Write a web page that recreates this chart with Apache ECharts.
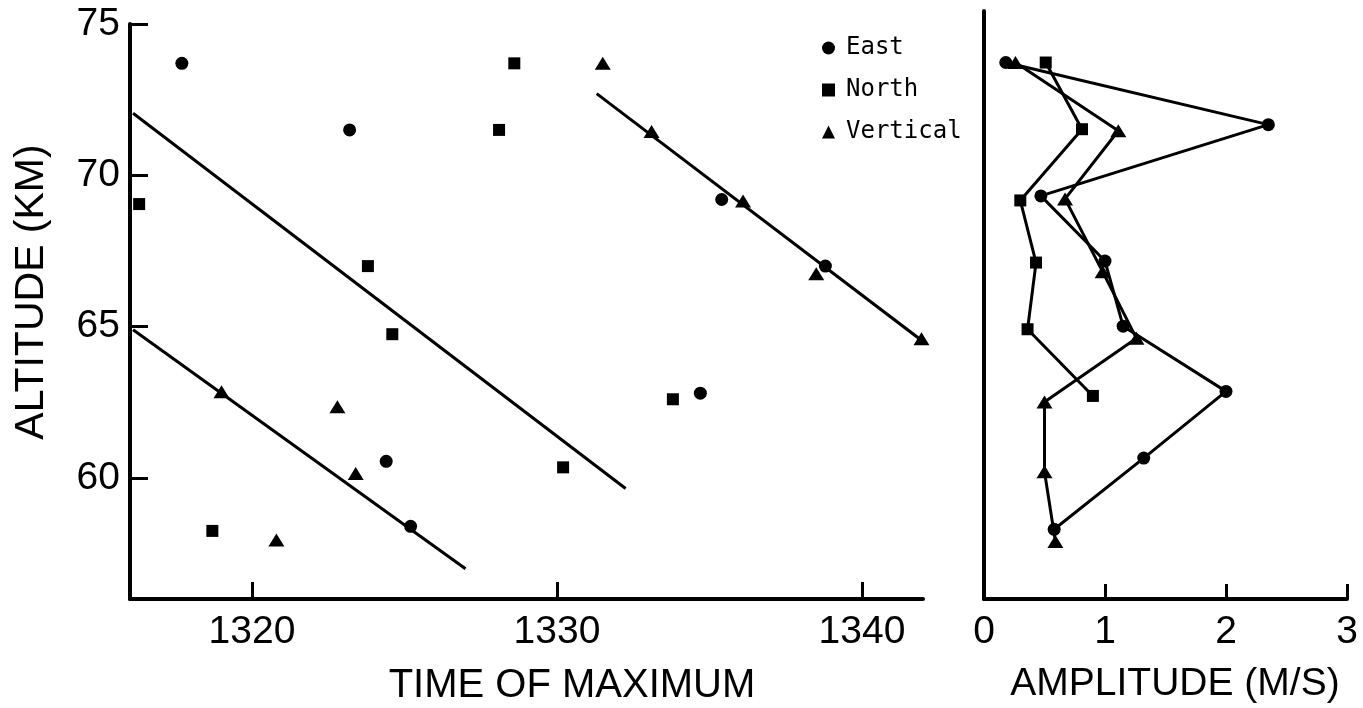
<!DOCTYPE html>
<html>
<head>
<meta charset="utf-8">
<script src="https://cdn.jsdelivr.net/npm/echarts@6/dist/echarts.min.js"></script>
<style>
  html, body { margin: 0; padding: 0; background: #fff; }
  #chart { width: 1363px; height: 708px; }
</style>
</head>
<body>
<div id="chart"></div>
<script>
// Tick values
const timeTicks = [1320, 1330, 1340];
const altTicks = [60, 65, 70, 75];
const ampTicks = [0, 1, 2, 3];

// Time of maximum (minutes) vs altitude (km)
const eastTime  = [1317.7, 1323.2, 1335.4, 1338.8, 1342.5, 1334.7, 1324.4, 1325.2];
const eastAlt   = [73.7, 71.5, 69.2, 67.0, 64.9, 62.8, 60.55, 58.4];
const northTime = [1328.6, 1328.1, 1316.3, 1323.8, 1324.6, 1333.8, 1330.2, 1318.7];
const northAlt  = [73.7, 71.5, 69.05, 67.0, 64.75, 62.6, 60.35, 58.25];
const vertTime  = [1331.5, 1333.1, 1336.1, 1338.5, 1341.95, 1319.0, 1322.8, 1323.4, 1320.8];
const vertAlt   = [73.7, 71.45, 69.15, 66.75, 64.6, 62.85, 62.35, 60.15, 57.95];

// Fitted phase lines (end points)
const fitUpperTime = [1331.3, 1342.6];
const fitUpperAlt  = [72.7, 64.05];
const fitMidTime   = [1316.1, 1332.25];
const fitMidAlt    = [72.05, 59.65];
const fitLowTime   = [1316.1, 1327.0];
const fitLowAlt    = [64.9, 57.0];

// Amplitude (m/s) profiles vs altitude (km)
const eastAmp     = [0.18, 2.35, 0.47, 1.0, 1.15, 2.0, 1.32, 0.58];
const eastAmpAlt  = [73.7, 71.65, 69.3, 67.15, 65.0, 62.85, 60.65, 58.3];
const northAmp    = [0.51, 0.81, 0.30, 0.43, 0.36, 0.90];
const northAmpAlt = [73.7, 71.5, 69.15, 67.1, 64.9, 62.7];
const vertAmp     = [0.26, 1.11, 0.67, 0.98, 1.26, 0.50, 0.50, 0.59];
const vertAmpAlt  = [73.7, 71.45, 69.2, 66.8, 64.6, 62.5, 60.2, 57.9];

const zip = (xs, ys) => xs.map((x, i) => [x, ys[i]]);

const INK = '#000';
const LABEL_FONT = 'Liberation Sans, Arial, sans-serif';
const SYM = {
  East: { symbol: 'circle', size: 13 },
  North: { symbol: 'rect', size: 12 },
  Vertical: { symbol: 'triangle', size: [16, 13] }
};

const axisLine = { show: true, lineStyle: { color: INK, width: 4 } };
const labelStyle = { color: INK, fontFamily: LABEL_FONT, fontSize: 39, formatter: v => String(v) };

function scatter(name, xs, ys) {
  return {
    type: 'scatter', name, xAxisIndex: 0, yAxisIndex: 0,
    symbol: SYM[name].symbol, symbolSize: SYM[name].size,
    itemStyle: { color: INK, opacity: 1 }, z: 5,
    data: zip(xs, ys)
  };
}
function fitLine(xs, ys) {
  return {
    type: 'line', xAxisIndex: 0, yAxisIndex: 0, showSymbol: false, symbol: 'none',
    lineStyle: { color: INK, width: 3 }, z: 3,
    data: zip(xs, ys)
  };
}
function profile(name, xs, ys) {
  return {
    type: 'line', name, xAxisIndex: 1, yAxisIndex: 1,
    symbol: SYM[name].symbol, symbolSize: SYM[name].size, showSymbol: true,
    lineStyle: { color: INK, width: 3 }, itemStyle: { color: INK, opacity: 1 }, z: 4,
    data: zip(xs, ys)
  };
}

const chart = echarts.init(document.getElementById('chart'), null, { renderer: 'canvas' });
chart.setOption({
  animation: false,
  backgroundColor: '#fff',
  grid: [
    { left: 130, top: 24, width: 793, height: 575 },
    { left: 984, top: 11, width: 363, height: 588 }
  ],
  xAxis: [
    {
      type: 'value', gridIndex: 0, min: 1316, max: 1342,
      axisLine,
      axisTick: { show: true, inside: true, length: 17, lineStyle: { color: INK, width: 3 }, customValues: timeTicks },
      axisLabel: { ...labelStyle, margin: 14, customValues: timeTicks },
      splitLine: { show: false }
    },
    {
      type: 'value', gridIndex: 1, min: 0, max: 3,
      axisLine,
      axisTick: { show: true, inside: true, length: 15, lineStyle: { color: INK, width: 3 }, customValues: ampTicks },
      axisLabel: { ...labelStyle, margin: 14, customValues: ampTicks },
      splitLine: { show: false }
    }
  ],
  yAxis: [
    {
      type: 'value', gridIndex: 0, min: 56, max: 75,
      axisLine,
      axisTick: { show: true, inside: true, length: 18, lineStyle: { color: INK, width: 3 }, customValues: altTicks },
      axisLabel: { ...labelStyle, margin: 10, customValues: altTicks },
      splitLine: { show: false }
    },
    {
      type: 'value', gridIndex: 1, min: 56, max: 75.4,
      axisLine,
      axisTick: { show: false },
      axisLabel: { show: false },
      splitLine: { show: false }
    }
  ],
  legend: {
    orient: 'vertical', left: 817, top: 31,
    itemWidth: 13, itemHeight: 13, itemGap: 18,
    selectedMode: false,
    itemStyle: { opacity: 1 },
    textStyle: { color: INK, fontFamily: 'DejaVu Sans Mono', fontSize: 24, padding: [0, 0, 0, 6] },
    data: [
      { name: 'East', icon: 'circle' },
      { name: 'North', icon: 'rect' },
      { name: 'Vertical', icon: 'triangle' }
    ]
  },
  graphic: [
    {
      type: 'text', x: 32, y: 292, rotation: Math.PI / 2,
      style: { text: 'ALTITUDE (KM)', fill: INK, font: '41px ' + LABEL_FONT, align: 'center', verticalAlign: 'middle' }
    },
    {
      type: 'text', x: 572, y: 686,
      style: { text: 'TIME OF MAXIMUM', fill: INK, font: '40px ' + LABEL_FONT, align: 'center', verticalAlign: 'middle' }
    },
    {
      type: 'text', x: 1175, y: 684,
      style: { text: 'AMPLITUDE (M/S)', fill: INK, font: '39px ' + LABEL_FONT, align: 'center', verticalAlign: 'middle' }
    }
  ],
  series: [
    fitLine(fitUpperTime, fitUpperAlt),
    fitLine(fitMidTime, fitMidAlt),
    fitLine(fitLowTime, fitLowAlt),
    scatter('East', eastTime, eastAlt),
    scatter('North', northTime, northAlt),
    scatter('Vertical', vertTime, vertAlt),
    profile('East', eastAmp, eastAmpAlt),
    profile('North', northAmp, northAmpAlt),
    profile('Vertical', vertAmp, vertAmpAlt)
  ]
});
</script>
</body>
</html>
